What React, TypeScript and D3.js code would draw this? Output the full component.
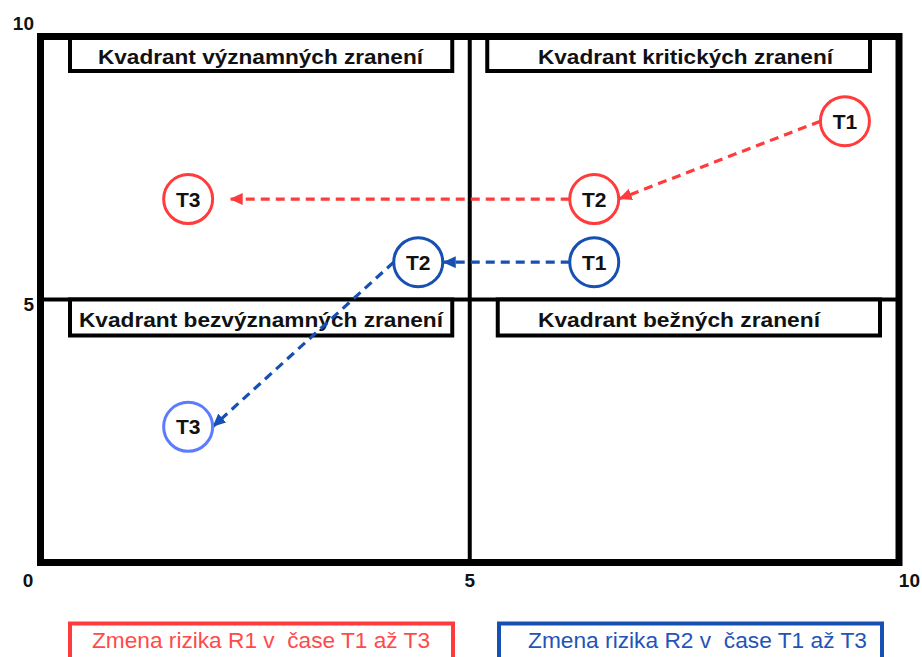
import React from "react";
import * as d3 from "d3";

// ---- data ----
const timePoints = ["T1", "T2", "T3"];
const r1X = [9.37, 6.45, 1.72];
const r1Y = [8.39, 6.91, 6.91];
const r2X = [6.45, 4.4, 1.72];
const r2Y = [5.71, 5.71, 2.58];
const quadrantNames = [
  "Kvadrant významných zranení",
  "Kvadrant kritických zranení",
  "Kvadrant bezvýznamných zranení",
  "Kvadrant bežných zranení",
];
const xTickValues = [0, 5, 10];
const yTickValues = [5, 10];
const legendLabels = [
  "Zmena rizika R1 v  čase T1 až T3",
  "Zmena rizika R2 v  čase T1 až T3",
];

const W = 922;
const H = 657;
const RED = "#ff3b3b";
const BLUE = "#1650b2";
const LIGHTBLUE = "#5b7cff";

export default function App() {
  const x = d3.scaleLinear().domain([0, 10]).range([40.5, 899]);
  const y = d3.scaleLinear().domain([0, 10]).range([562.5, 36.5]);
  const R = 24.5;

  const series = [
    { xs: r1X, ys: r1Y, color: RED, circleColors: [RED, RED, RED], gaps: [0, 17], id: "r" },
    { xs: r2X, ys: r2Y, color: BLUE, circleColors: [BLUE, BLUE, LIGHTBLUE], gaps: [0, 0], id: "b" },
  ];

  const x0 = x(0), x5 = x(5), x10 = x(10);
  const y0 = y(0), y5 = y(5), y10 = y(10);

  const boxes = [
    { x1: x0 + 29.5, x2: x5 - 17.5, y1: y10, y2: y10 + 34.5, tx: 260.5, ty: y10 + 27, tl: 325 },
    { x1: x5 + 17.5, x2: x10 - 29, y1: y10, y2: y10 + 34.5, tx: 685.5, ty: y10 + 27, tl: 295 },
    { x1: x0 + 29.5, x2: x5 - 17.5, y1: y5, y2: y5 + 36, tx: 261, ty: y5 + 27.5, tl: 364 },
    { x1: x5 + 28, x2: x10 - 19, y1: y5, y2: y5 + 36, tx: 679, ty: y5 + 27.5, tl: 282 },
  ];

  const legendBoxes = [
    { x1: 70, x2: 453, color: RED, textColor: "#ff4a4a", tx: 92, tl: 338 },
    { x1: 499, x2: 882, color: BLUE, textColor: "#1f55b8", tx: 528, tl: 339 },
  ];

  return (
    <svg
      width={W}
      height={H}
      style={{ position: "absolute", left: 0, top: 0, background: "#fff" }}
      fontFamily="'Liberation Sans', Arial, sans-serif"
    >
      <defs>
        {series.map((s) => (
          <marker
            key={s.id}
            id={`arrow-${s.id}`}
            markerUnits="userSpaceOnUse"
            markerWidth={14}
            markerHeight={12}
            refX={13}
            refY={6}
            orient="auto"
          >
            <path d="M0,0 L13,6 L0,12 Z" fill={s.color} />
          </marker>
        ))}
      </defs>

      {/* quadrant divider lines */}
      <line x1={x5} x2={x5} y1={y10} y2={y0} stroke="#000" strokeWidth={4} />
      <line x1={x0} x2={x10} y1={y5} y2={y5} stroke="#000" strokeWidth={4} />

      {/* quadrant label boxes */}
      {boxes.map((b, i) => (
        <g key={i}>
          <rect
            x={b.x1}
            y={b.y1}
            width={b.x2 - b.x1}
            height={b.y2 - b.y1}
            fill="#fff"
            stroke="#000"
            strokeWidth={4}
          />
          <text
            x={b.tx}
            y={b.ty}
            textAnchor="middle"
            fontWeight="bold"
            fontSize={20}
            fill="#111"
            textLength={b.tl}
            lengthAdjust="spacingAndGlyphs"
          >
            {quadrantNames[i]}
          </text>
        </g>
      ))}

      {/* outer frame */}
      <rect x={x0} y={y10} width={x10 - x0} height={y0 - y10} fill="none" stroke="#000" strokeWidth={7} />

      {/* arrows */}
      {series.map((s) =>
        s.xs.slice(0, -1).map((_, i) => {
          const sx = x(s.xs[i]) - R;
          const sy = y(s.ys[i]);
          const ex = x(s.xs[i + 1]) + R + s.gaps[i];
          const ey = y(s.ys[i + 1]);
          return (
            <line
              key={`${s.id}-${i}`}
              x1={sx}
              y1={sy}
              x2={ex}
              y2={ey}
              stroke={s.color}
              strokeWidth={3.2}
              strokeDasharray="9 6"
              markerEnd={`url(#arrow-${s.id})`}
            />
          );
        })
      )}

      {/* circles */}
      {series.map((s) =>
        s.xs.map((v, i) => (
          <g key={`${s.id}-c${i}`}>
            <circle cx={x(v)} cy={y(s.ys[i])} r={R} fill="#fff" stroke={s.circleColors[i]} strokeWidth={3} />
            <text
              x={x(v)}
              y={y(s.ys[i]) + 7.5}
              textAnchor="middle"
              fontWeight="bold"
              fontSize={21}
              fill="#111"
            >
              {timePoints[i]}
            </text>
          </g>
        ))
      )}

      {/* axis labels */}
      {yTickValues.map((v) => (
        <text
          key={`y${v}`}
          x={34}
          y={v === 10 ? y(v) - 7 : y(v) + 11}
          textAnchor="end"
          fontWeight="bold"
          fontSize={19}
          fill="#111"
        >
          {v}
        </text>
      ))}
      {xTickValues.map((v) => (
        <text
          key={`x${v}`}
          x={v === 0 ? 28 : v === 10 ? 920 : x(v)}
          y={587}
          textAnchor={v === 10 ? "end" : "middle"}
          fontWeight="bold"
          fontSize={19}
          fill="#111"
        >
          {v}
        </text>
      ))}

      {/* legend */}
      {legendBoxes.map((l, i) => (
        <g key={`leg${i}`}>
          <rect
            x={l.x1}
            y={623.5}
            width={l.x2 - l.x1}
            height={45}
            fill="#fff"
            stroke={l.color}
            strokeWidth={4}
          />
          <text
            x={l.tx}
            y={648}
            fontSize={22}
            fill={l.textColor}
            fontFamily="'Liberation Sans Narrow', 'Liberation Sans', Arial, sans-serif"
            textLength={l.tl}
            lengthAdjust="spacingAndGlyphs"
            style={{ whiteSpace: "pre" }}
          >
            {legendLabels[i]}
          </text>
        </g>
      ))}
    </svg>
  );
}
